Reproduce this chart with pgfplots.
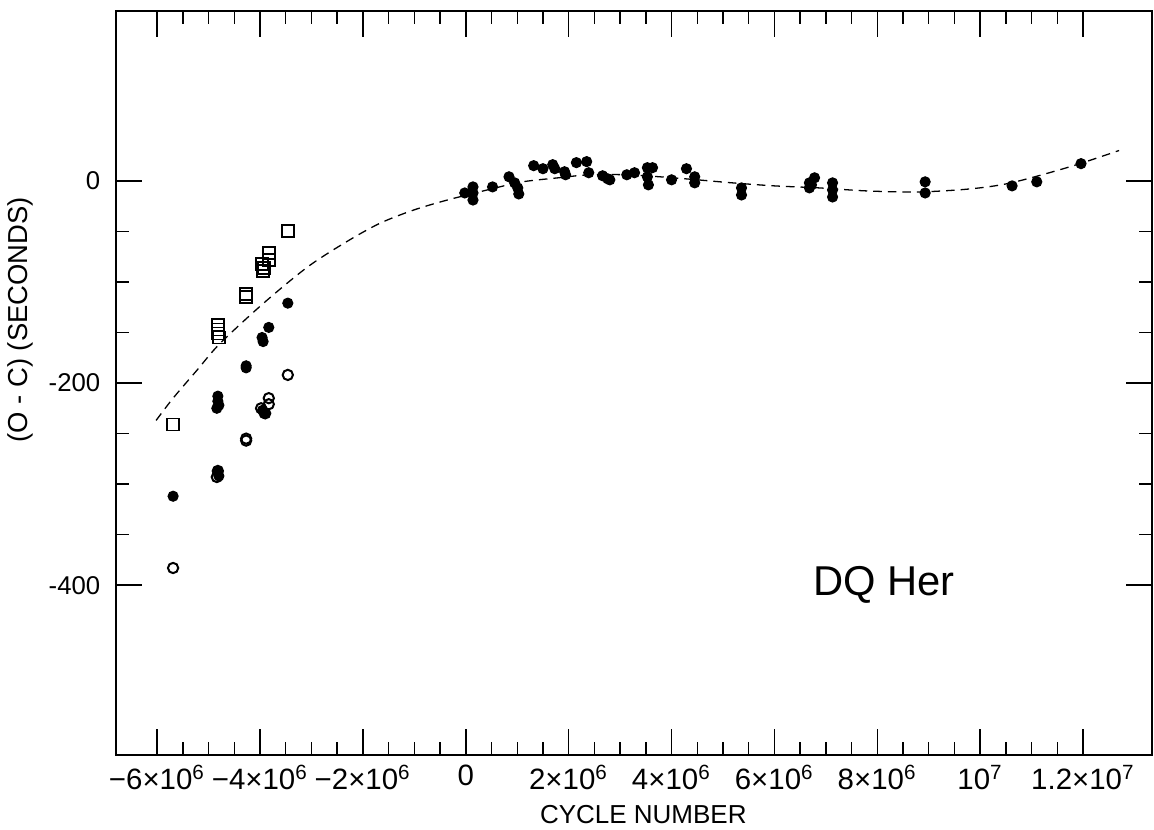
\documentclass[border=0pt]{standalone}
\usepackage{fontspec}
\setmainfont{Liberation Sans}
\usepackage{pgfplots}
\pgfplotsset{compat=1.18}

\begin{document}
\begin{tikzpicture}
\begin{axis}[
    scale only axis,
    width=362.6pt, height=260.4pt,
    xmin=-6.8, xmax=13.34,
    ymin=-568, ymax=168,
    xtick={-6,-4,...,12},
    xticklabels={−6×10\textsuperscript{6}, −4×10\textsuperscript{6}, −2×10\textsuperscript{6}, 0,
                 2×10\textsuperscript{6}, 4×10\textsuperscript{6}, 6×10\textsuperscript{6},
                 8×10\textsuperscript{6}, 10\textsuperscript{7}, 1.2×10\textsuperscript{7}},
    minor x tick num=3,
    ytick={-400,-200,0},
    yticklabels={-400,-200,0},
    minor y tick num=3,
    tick align=inside,
    major tick length=9.1pt,
    minor tick length=4.6pt,
    every tick/.style={black, line width=0.5pt},
    axis line style={line width=0.7pt},
    yticklabel style={xshift=-2pt, font=\fontsize{9}{10}\selectfont},
    xticklabel style={font=\fontsize{10.3}{11}\selectfont},
    xlabel={CYCLE NUMBER},
    ylabel={(O - C) (SECONDS)},
    every axis x label/.style={at={(axis description cs:0.509,-0.0806)}, anchor=center, font=\fontsize{9.1}{10}\selectfont},
    every axis y label/.style={at={(axis description cs:-0.0927,0.585)}, rotate=90, anchor=center, font=\fontsize{9.6}{10}\selectfont},
]
% fitted curve
\addplot[black, line width=0.45pt, dash pattern=on 3pt off 2.1pt, smooth] coordinates {
    (-6.02,-237) (-5.69,-215) (-5.22,-187) (-4.78,-161) (-3.93,-121)
    (-3.07,-85) (-2.31,-60) (-1.67,-42) (-1.02,-29) (-0.36,-19)
    (0.5,-8) (1.1,-1) (1.8,3) (2.4,6) (3.1,6) (3.77,4) (4.5,1)
    (5.18,-2) (6.0,-5) (6.87,-7) (7.8,-10) (8.8,-11) (9.8,-8)
    (10.6,-2) (11.75,14) (12.7,30)
};
% open squares
\addplot[only marks, mark=square, mark size=2.1pt, mark options={line width=0.65pt, black}] coordinates {
    (-3.46,-50) (-3.83,-71) (-3.83,-78) (-3.96,-82) (-3.92,-86) (-3.94,-89)
    (-4.27,-112) (-4.27,-115) (-4.82,-143) (-4.82,-147) (-4.82,-151) (-4.80,-155)
    (-5.69,-241)
};
% open circles
\addplot[only marks, mark=o, mark size=1.8pt, mark options={line width=0.7pt, black}] coordinates {
    (-3.46,-192) (-3.83,-215) (-3.83,-221) (-3.98,-225) (-3.90,-230)
    (-4.27,-255) (-4.27,-257) (-4.82,-287) (-4.84,-293) (-5.69,-383)
};
% filled circles
\addplot[only marks, mark=*, mark size=1.75pt, mark options={black, fill=black}] coordinates {
    (-3.46,-121) (-3.83,-145) (-3.96,-155) (-3.94,-159) (-4.27,-183) (-4.27,-185)
    (-4.82,-213) (-4.82,-218) (-4.80,-222) (-4.84,-225) (-3.95,-227) (-3.92,-230)
    (-4.82,-288) (-4.80,-292) (-5.69,-312)
    (-0.02,-12) (0.14,-6) (0.14,-12) (0.14,-19) (0.52,-6) (0.84,4) (0.95,-2)
    (1.01,-7) (1.03,-13) (1.32,15) (1.50,12) (1.69,16) (1.73,12) (1.92,9) (1.94,6)
    (2.15,18) (2.35,19) (2.39,8) (2.66,5) (2.76,2) (2.80,1) (3.13,6) (3.28,8)
    (3.53,13) (3.63,13) (3.53,4) (3.55,-4) (4.00,1) (4.29,12) (4.45,4) (4.45,-2)
    (5.36,-7) (5.36,-14) (6.68,-2) (6.78,3) (6.68,-7) (6.72,-4)
    (7.13,-2) (7.13,-9) (7.13,-16) (8.93,-1) (8.93,-12)
    (10.62,-5) (11.1,-1) (11.96,17)
};
\node[font=\fontsize{14.6}{16}\selectfont] at (axis cs:8.13,-400) {DQ Her};
\end{axis}
\pgfresetboundingbox
\path ([xshift=-40.6pt,yshift=-25.9pt]current axis.south west) rectangle ([xshift=0.7pt,yshift=3.85pt]current axis.north east);
\end{tikzpicture}
\end{document}
